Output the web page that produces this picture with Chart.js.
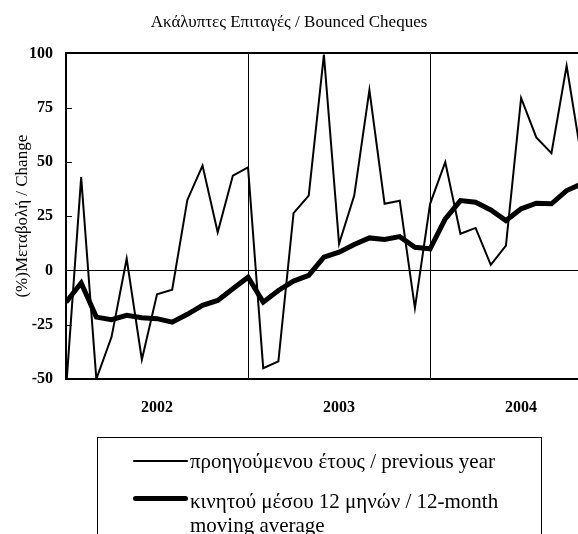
<!DOCTYPE html>
<html>
<head>
<meta charset="utf-8">
<script src="https://cdn.jsdelivr.net/npm/chart.js@4/dist/chart.umd.min.js"></script>
<style>
  html, body { margin: 0; padding: 0; background: #fff; overflow: hidden; }
  #wrap { position: relative; width: 578px; height: 534px; overflow: hidden; }
  #c { position: absolute; left: 0; top: 0; }
  #legend { position: absolute; left: 97px; top: 437px; width: 445px; height: 130px;
            border: 1px solid #000; box-sizing: border-box; font-family: 'Liberation Serif', serif;
            font-size: 21px; color: #000; }
  .item { position: absolute; left: 35px; }
  .sample { position: absolute; left: 0; width: 55px; background: #000; border-radius: 3px; }
  .txt { position: absolute; left: 57px; width: 350px; line-height: 24px; white-space: normal; }
</style>
</head>
<body>
<div id="wrap">
  <canvas id="c" width="578" height="534"></canvas>
  <div id="legend"></div>
</div>
<script>
// ---- data ----
const titleText = 'Ακάλυπτες Επιταγές / Bounced Cheques';
const yAxisTitle = '(%)Μεταβολή / Change';
const yearLabels = ['2002', '2003', '2004'];
const months = [
  'Jan 2002','Feb 2002','Mar 2002','Apr 2002','May 2002','Jun 2002','Jul 2002','Aug 2002','Sep 2002','Oct 2002','Nov 2002','Dec 2002',
  'Jan 2003','Feb 2003','Mar 2003','Apr 2003','May 2003','Jun 2003','Jul 2003','Aug 2003','Sep 2003','Oct 2003','Nov 2003','Dec 2003',
  'Jan 2004','Feb 2004','Mar 2004','Apr 2004','May 2004','Jun 2004','Jul 2004','Aug 2004','Sep 2004','Oct 2004','Nov 2004'
];
const prevYearLabel = 'προηγούμενου έτους / previous year';
const prevYear = [-55, 43, -50, -30.7, 5.4, -41.1, -11, -8.9, 32.5, 48.3, 17.6, 43.7,
                  47.5, -45, -41.9, 26.4, 34.5, 99.4, 12.3, 34.5, 83.1, 30.7, 32.1, -17.3,
                  30.7, 49.9, 16.9, 19.6, 2.6, 11.5, 79.5, 61.3, 54, 94.3, 51];
const movingAvgLabel = 'κινητού μέσου 12 μηνών / 12-month moving average';
const movingAvg = [-14.6, -5.8, -21.5, -22.7, -20.7, -21.8, -22.2, -23.8, -20.2, -16.1, -13.8, -8.4,
                   -3.1, -14.6, -9.2, -4.9, -2.3, 6.1, 8.4, 12, 15, 14.3, 15.6, 10.7,
                   10, 23.8, 32.2, 31.4, 27.9, 23, 28.4, 31, 30.7, 36.8, 40];
const yTicks = [-50, -25, 0, 25, 50, 75, 100];

// ---- chart ----
const xMax = 33.75;            // visible part of the month axis (chart is cropped on the right)
const serif = 'Liberation Serif';
const toXY = arr => arr.map((v, i) => ({ x: i, y: v, label: months[i] }));
const xTickValues = [];
for (let k = 0; k <= xMax; k += 6) xTickValues.push(k);

const datasets = [
  { label: prevYearLabel, data: toXY(prevYear), borderColor: '#000', borderWidth: 2 },
  { label: movingAvgLabel, data: toXY(movingAvg), borderColor: '#000', borderWidth: 5 }
];

const innerTicks = {
  id: 'innerTicks',
  afterDraw(chart) {
    const { ctx, chartArea, scales: { y } } = chart;
    ctx.save();
    ctx.strokeStyle = '#000';
    ctx.lineWidth = 1;
    ctx.beginPath();
    y.ticks.forEach(t => {
      const py = Math.round(y.getPixelForValue(t.value)) + 0.5;
      ctx.moveTo(chartArea.left, py);
      ctx.lineTo(chartArea.left + 6, py);
    });
    ctx.stroke();
    ctx.restore();
  }
};

new Chart(document.getElementById('c'), {
  type: 'line',
  data: { datasets: datasets.map(d => ({ ...d, pointRadius: 0, tension: 0, fill: false })) },
  options: {
    responsive: false,
    animation: false,
    devicePixelRatio: 1,
    layout: { padding: { left: 0, right: 0, top: 0, bottom: 115 } },
    plugins: {
      legend: { display: false },
      tooltip: { enabled: false },
      title: {
        display: true, text: titleText, color: '#000',
        font: { family: serif, size: 17, weight: 'normal' },
        padding: { top: 12, bottom: 21 }
      }
    },
    scales: {
      x: {
        type: 'linear', min: 0, max: xMax,
        afterBuildTicks: s => { s.ticks = xTickValues.map(v => ({ value: v })); },
        afterFit: s => { s.height = 40; },
        ticks: {
          autoSkip: false, maxRotation: 0, minRotation: 0, color: '#000', padding: 19,
          font: { family: serif, size: 16, weight: 'bold' },
          callback: v => (v % 12 === 6 ? yearLabels[(v - 6) / 12] : '')
        },
        grid: {
          drawTicks: false, lineWidth: 1,
          color: c => (c.tick && c.tick.value % 12 === 0 && c.tick.value > 0) ? '#000' : 'rgba(0,0,0,0)'
        },
        border: { display: true, color: '#000', width: 2 }
      },
      y: {
        min: -50, max: 100,
        afterBuildTicks: s => { s.ticks = yTicks.map(v => ({ value: v })); },
        afterFit: s => { s.width = 66; },
        ticks: {
          color: '#000', padding: 13,
          font: { family: serif, size: 16, weight: 'bold' }
        },
        grid: {
          drawTicks: false,
          color: c => (c.tick && (c.tick.value === 0 || c.tick.value === 100)) ? '#000' : 'rgba(0,0,0,0)',
          lineWidth: c => (c.tick && c.tick.value === 100) ? 2 : 1
        },
        border: { display: true, color: '#000', width: 2 },
        title: {
          display: true, text: yAxisTitle, color: '#000',
          font: { family: serif, size: 17, weight: 'normal' },
          padding: { top: 12, bottom: 0 }
        }
      }
    }
  },
  plugins: [innerTicks]
});

// ---- HTML legend built from the datasets ----
const legend = document.getElementById('legend');
const legendRows = [
  { top: 11, sampleTop: 23 },
  { top: 51, sampleTop: 60 }
];
datasets.forEach((d, i) => {
  const item = document.createElement('div');
  item.className = 'item';
  item.style.top = legendRows[i].top + 'px';
  const s = document.createElement('div');
  s.className = 'sample';
  s.style.height = d.borderWidth + 'px';
  s.style.top = (legendRows[i].sampleTop - legendRows[i].top - d.borderWidth / 2) + 'px';
  const t = document.createElement('div');
  t.className = 'txt';
  t.textContent = d.label;
  item.appendChild(s);
  item.appendChild(t);
  legend.appendChild(item);
});
</script>
</body>
</html>
